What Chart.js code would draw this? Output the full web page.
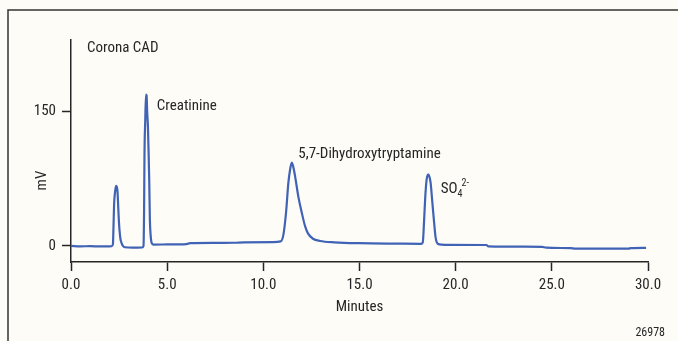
<!DOCTYPE html>
<html>
<head>
<meta charset="utf-8">
<script src="https://cdn.jsdelivr.net/npm/chart.js@4.4.1/dist/chart.umd.min.js"></script>
<style>
  html, body { margin: 0; padding: 0; background: #fdfcf7; }
  canvas { display: block; }
</style>
</head>
<body>
<canvas id="chromatogram" width="678" height="341"></canvas>
<script>
// Corona CAD trace: retention time (min) and detector response (mV)
const minutes = [
  0.0, 0.5, 1.0, 1.5, 2.0, 2.12, 2.18, 2.21, 2.24, 2.29, 2.34, 2.38, 2.42, 2.45,
  2.48, 2.52, 2.57, 2.63, 2.70, 2.80, 3.2, 3.7, 3.77, 3.80, 3.82, 3.86, 3.90,
  3.93, 3.96, 4.00, 4.04, 4.07, 4.10, 4.14, 4.20, 4.30, 5.0, 6.0, 6.2, 7.5, 8.5,
  9.0, 10.5, 10.9, 11.04, 11.18, 11.30, 11.39, 11.48, 11.56, 11.65, 11.82, 12.00,
  12.17, 12.32, 12.58, 12.95, 13.7, 15.0, 17.0, 18.2, 18.29, 18.36, 18.42, 18.49,
  18.58, 18.64, 18.70, 18.79, 18.88, 18.96, 19.10, 19.45, 21.6, 21.7, 24.5, 24.7,
  26.0, 26.2, 29.0, 29.1, 29.9
]
const signal = [
  0, -0.5, -0.3, -0.6, -0.5, -0.3, 2, 22, 46, 60, 67, 66, 60, 46,
  32, 18, 8, 3, 0, -1.5, -2, -1.8, 0, 40, 100, 140, 169,
  168, 150, 133, 100, 70, 30, 12, 3, 1.5, 1.6, 2, 3, 3.3, 3.5,
  4, 4.2, 5, 12, 37, 70, 85, 93, 88, 78, 55, 37,
  22, 14, 8, 5.5, 4, 3, 2.5, 2.3, 4, 29, 55, 74,
  80, 77, 70, 48, 26, 9, 2, 1.2, 1, -0.5, -1, -2,
  -2.5, -3, -3, -2.5, -2.2
]
const xTicks = [0, 5, 10, 15, 20, 25, 30]
const yTicks = [0, 150]

const FONT = "'Liberation Sans Narrow', 'Roboto Condensed', 'Liberation Sans', sans-serif"
const INK = '#262626'
const TRACE = '#4163b5'

// labels placed in data units next to their peaks
const peakLabels = [
  { text: 'Corona CAD', t: 0.83, mv: 217 },
  { text: 'Creatinine', t: 4.46, mv: 152 },
  { text: '5,7-Dihydroxytryptamine', t: 11.82, mv: 98.5 }
]

const pagePlugin = {
  id: 'page',
  beforeDraw(chart) {
    const { ctx, width, height } = chart
    ctx.save()
    ctx.fillStyle = '#fdfcf7'
    ctx.fillRect(0, 0, width, height)
    ctx.strokeStyle = '#333'
    ctx.lineWidth = 1.5
    ctx.beginPath()
    ctx.moveTo(8, height)
    ctx.lineTo(8, 10)
    ctx.lineTo(width, 10)
    ctx.stroke()
    ctx.restore()
  },
  afterDraw(chart) {
    const { ctx } = chart
    const x = chart.scales.x
    const y = chart.scales.y
    ctx.save()
    ctx.fillStyle = INK
    ctx.textBaseline = 'alphabetic'
    ctx.textAlign = 'left'
    ctx.font = '15px ' + FONT
    peakLabels.forEach(l => {
      ctx.fillText(l.text, x.getPixelForValue(l.t), y.getPixelForValue(l.mv))
    })

    // sulfate label with sub/superscript
    let sx = x.getPixelForValue(19.22)
    const sy = y.getPixelForValue(59)
    ctx.fillText('SO', sx, sy)
    sx += ctx.measureText('SO').width
    ctx.font = '10px ' + FONT
    ctx.fillText('4', sx, sy + 4)
    ctx.fillText('2-', sx + 4, sy - 7)

    // rotated y axis title
    ctx.font = '15px ' + FONT
    ctx.textAlign = 'center'
    ctx.textBaseline = 'middle'
    ctx.translate(42, y.getPixelForValue(73))
    ctx.rotate(-Math.PI / 2)
    ctx.fillText('mV', 0, 0)
    ctx.restore()

    ctx.save()
    ctx.fillStyle = INK
    ctx.font = '12px ' + FONT
    ctx.textAlign = 'right'
    ctx.textBaseline = 'alphabetic'
    ctx.fillText('26978', 665, 336)
    ctx.restore()
  }
}

new Chart(document.getElementById('chromatogram'), {
  type: 'line',
  data: {
    datasets: [{
      data: minutes.map((t, i) => ({ x: t, y: signal[i] })),
      borderColor: TRACE,
      borderWidth: 2.2,
      pointRadius: 0,
      cubicInterpolationMode: 'monotone',
      fill: false
    }]
  },
  options: {
    responsive: false,
    animation: false,
    layout: {
      padding: { left: 0, right: 30, top: 40, bottom: 0 }
    },
    plugins: {
      legend: { display: false },
      tooltip: { enabled: false }
    },
    scales: {
      x: {
        type: 'linear',
        min: 0,
        max: 30,
        afterBuildTicks: scale => { scale.ticks = xTicks.map(v => ({ value: v })) },
        afterFit: scale => { scale.height = 79 },
        ticks: {
          color: INK,
          padding: 5,
          maxRotation: 0,
          font: { family: FONT, size: 15 },
          callback: v => v.toFixed(1)
        },
        grid: {
          drawOnChartArea: false,
          drawTicks: true,
          tickLength: 9,
          tickColor: INK,
          tickWidth: 1.5
        },
        border: { color: INK, width: 1.5 },
        title: {
          display: true,
          text: 'Minutes',
          color: INK,
          font: { family: FONT, size: 15 },
          padding: { top: 0, bottom: 25 }
        }
      },
      y: {
        type: 'linear',
        min: -18,
        max: 230,
        afterBuildTicks: scale => { scale.ticks = yTicks.map(v => ({ value: v })) },
        afterFit: scale => { scale.width = 71 },
        ticks: {
          color: INK,
          padding: 6,
          font: { family: FONT, size: 15 }
        },
        grid: {
          drawOnChartArea: false,
          drawTicks: true,
          tickLength: 9,
          tickColor: INK,
          tickWidth: 1.5
        },
        border: { color: INK, width: 1.5 }
      }
    }
  },
  plugins: [pagePlugin]
})
</script>
</body>
</html>
